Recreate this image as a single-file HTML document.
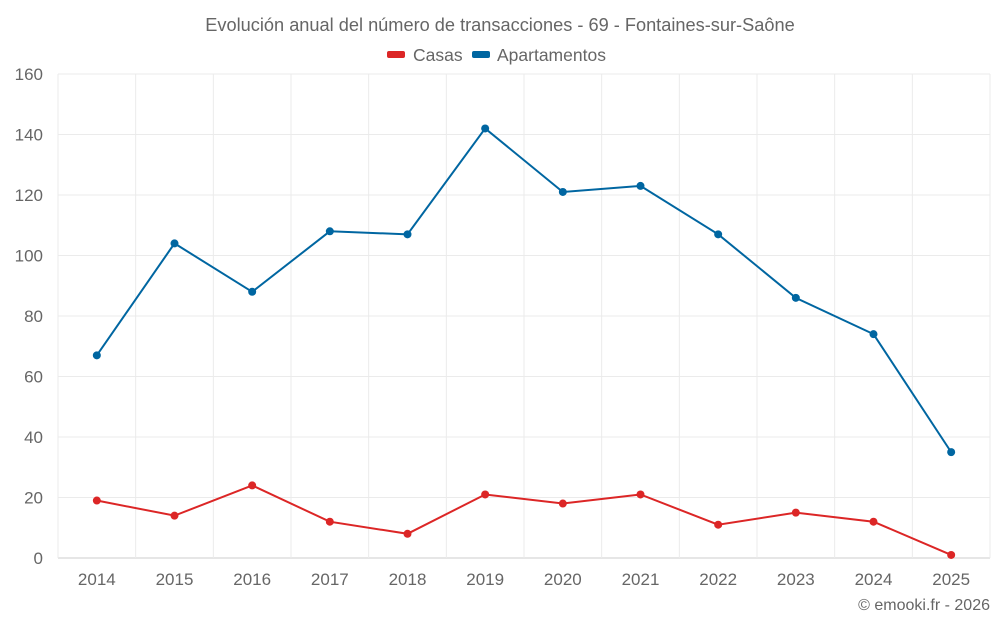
<!DOCTYPE html>
<html><head><meta charset="utf-8"><style>
body{margin:0;background:#fff;}
svg{display:block;font-family:"Liberation Sans",sans-serif;}
</style></head><body>
<svg id="c" width="1000" height="625">
<text x="500" y="31" text-anchor="middle" font-size="18.2" fill="#666">Evolución anual del número de transacciones - 69 - Fontaines-sur-Saône</text>
<g>
<g><rect x="387" y="51" width="18" height="7" rx="2" fill="#dc2626"/><text x="413" y="61" font-size="17.5" fill="#666">Casas</text></g>
<g><rect x="472" y="51" width="18" height="7" rx="2" fill="#0066a1"/><text x="497" y="61" font-size="17.5" fill="#666">Apartamentos</text></g>
</g>
<g id="grid"></g><g id="axes"></g><g id="series"></g>
<text x="990" y="610" text-anchor="end" font-size="16" fill="#666">© emooki.fr - 2026</text>
</svg>
<script>
const years=[2014,2015,2016,2017,2018,2019,2020,2021,2022,2023,2024,2025];
const casas=[19,14,24,12,8,21,18,21,11,15,12,1];
const apartamentos=[67,104,88,108,107,142,121,123,107,86,74,35];
const yTicks=[0,20,40,60,80,100,120,140,160];
const NS='http://www.w3.org/2000/svg';
const L=58,R=990,T=74,B=558,band=(R-L)/years.length;
const x=i=>L+band*(i+0.5);
const y=v=>B-(v/160)*(B-T);
function mk(tag,attrs,parent){const e=document.createElementNS(NS,tag);for(const k in attrs)e.setAttribute(k,attrs[k]);document.getElementById(parent).appendChild(e);return e;}
yTicks.forEach(t=>{
 const g=mk('line',{x1:L,x2:R,y1:y(t),y2:y(t),stroke:t===0?'#ccc':'#ebebeb','stroke-width':1},'grid');
 
 
 const tx=mk('text',{x:43,y:y(t)+6,'text-anchor':'end','font-size':17,fill:'#666'},'axes');tx.textContent=t;
 
 
});
for(let i=0;i<=years.length;i++){
 const g=mk('line',{x1:L+band*i,x2:L+band*i,y1:T,y2:B,stroke:'#ebebeb','stroke-width':1},'grid');
 
 
}
years.forEach((yr,i)=>{
 const tx=mk('text',{x:x(i),y:585,'text-anchor':'middle','font-size':17,fill:'#666'},'axes');tx.textContent=yr;
 
 
});
function draw(data,color,name){
 const p=mk('polyline',{points:data.map((v,i)=>x(i)+','+y(v)).join(' '),fill:'none',stroke:color,'stroke-width':2},'series');
 
 
 data.forEach((v,i)=>{
  const c=mk('circle',{cx:x(i),cy:y(v),r:4,fill:color},'series');
  
  
 });
}
draw(apartamentos,'#0066a1','apartamentos');
draw(casas,'#dc2626','casas');
</script>
</body></html>
